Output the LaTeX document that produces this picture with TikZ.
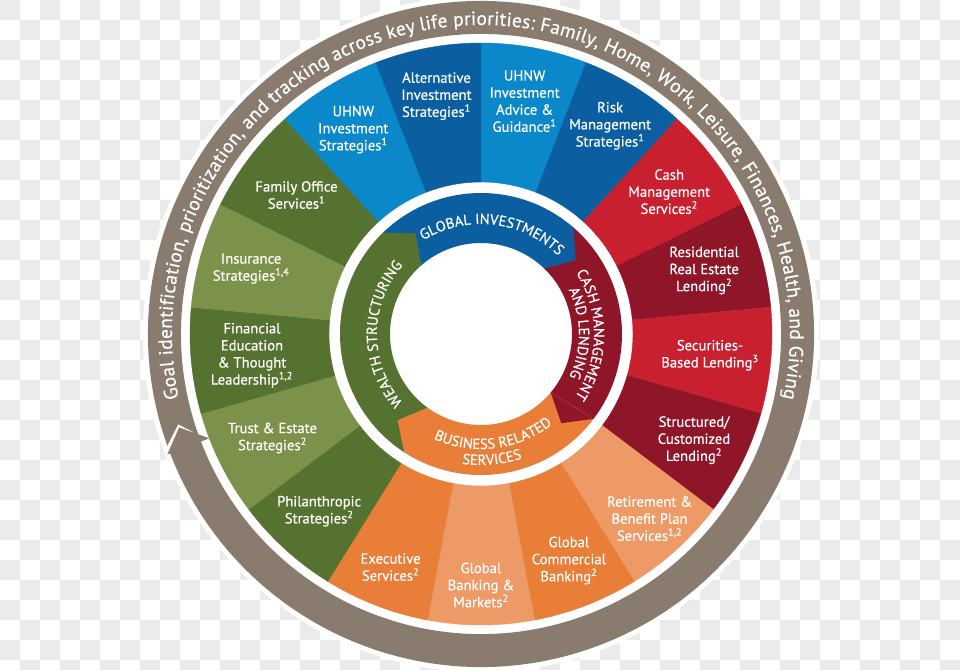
\documentclass[tikz,border=0pt]{standalone}
\usepackage{fontspec}
\setmainfont{PT Sans}
\newfontfamily\wheelfont{PT Sans}[FakeBold=0.5]
\usetikzlibrary{decorations.text}

\definecolor{bluedark}{HTML}{0B5FA0}
\definecolor{bluelight}{HTML}{0B88C9}
\definecolor{redmain}{HTML}{C8202F}
\definecolor{reddark}{HTML}{8F1628}
\definecolor{orangemain}{HTML}{E87E38}
\definecolor{orangelight}{HTML}{EE9A66}
\definecolor{greendark}{HTML}{567230}
\definecolor{greenlight}{HTML}{7C924A}
\definecolor{ringbrown}{HTML}{8A7B6F}
\definecolor{checkgray}{HTML}{EBEBEB}

\tikzset{
  wedgelabel/.style={text=white, align=center, inner sep=0pt, font=\wheelfont\fontsize{11}{12.8}\selectfont},
  arctext/.style={decorate, decoration={text along path, text align=center,
      text={|\wheelfont\fontsize{11}{12}\selectfont\color{white}|#1}}},
}

\begin{document}
\begin{tikzpicture}[x=0.75pt, y=0.75pt, line join=round]
  % Window bounds (pixels, centre of the wheel at the origin)
  \def\xmin{-481} \def\xmax{479}
  \def\ymin{-335} \def\ymax{334}
  \useasboundingbox (\xmin,\ymin) rectangle (\xmax,\ymax);

  % Checkerboard behind the wheel
  \foreach \i in {0,2,...,46} {
    \foreach \j in {0,2,...,32} {
      \fill[checkgray] (\xmin+20*\i,\ymax-20*\j) rectangle ++(20,-20);
      \fill[checkgray] (\xmin+20*\i+20,\ymax-20*\j-20) rectangle ++(20,-20);
    }
  }
  \fill[white] (0,0) circle[radius=338];

  % Outer arrow ring
  \fill[ringbrown] (199.6:333) arc[start angle=199.6, end angle=-159, radius=333]
    -- (-159:336) -- (-162.8:316) -- (-159:291) -- (-159:300)
    arc[start angle=-159, end angle=199.6, radius=300] -- (196.6:316) -- cycle;
  \path[decorate, decoration={text along path, text align={fit to path},
      text={|\wheelfont\fontsize{14.5}{16}\selectfont\color{white}|Goal identification, prioritization, and tracking across key life priorities: Family, Home, Work, Leisure, Finances, Health, and Giving}}]
    (192:309) arc[start angle=192, end angle=-12, radius=309];

  % Outer wedges, clockwise from the top
  \foreach \c [count=\k from 0] in {bluelight, bluedark, redmain, reddark, redmain, reddark,
      orangelight, orangemain, orangelight, orangemain, greendark, greenlight,
      greendark, greenlight, greendark, bluelight, bluedark} {
    \pgfmathsetmacro\a{90-\k*360/17}
    \pgfmathsetmacro\b{90-(\k+1)*360/17}
    \filldraw[\c, line width=0.3pt] (\a:152) arc[start angle=\a, end angle=\b, radius=152]
      -- (\b:291) arc[start angle=\b, end angle=\a, radius=291] -- cycle;
  }

  % Inner ring: sectors, then the pointed ends
  \fill[greendark] (237:141) arc[start angle=237, end angle=134, radius=141]
    -- (131:91) arc[start angle=131, end angle=234, radius=91] -- cycle;
  \fill[bluedark] (134:141) arc[start angle=134, end angle=49, radius=141]
    -- (46:91) arc[start angle=46, end angle=131, radius=91] -- cycle;
  \fill[reddark] (49:141) arc[start angle=49, end angle=-37, radius=141]
    -- (-40:91) arc[start angle=-40, end angle=46, radius=91] -- cycle;
  \fill[orangemain] (-37:141) arc[start angle=-37, end angle=-123, radius=141]
    -- (-126:91) arc[start angle=-126, end angle=-40, radius=91] -- cycle;
  \fill[greendark] (134:141) -- (123:120) -- (131:91) -- cycle;
  \fill[bluedark] (49:141) -- (38:120) -- (46:91) -- cycle;
  \fill[reddark] (-37:141) -- (-48:120) -- (-40:91) -- cycle;
  \fill[orangemain] (-123:141) -- (-134:120) -- (-126:91) -- cycle;

  % Inner ring labels
  \path[arctext={GLOBAL INVESTMENTS}] (130:110) arc[start angle=130, end angle=37, radius=110];
  \path[arctext={CASH MANAGEMENT}] (45:113) arc[start angle=45, end angle=-46, radius=113];
  \path[arctext={AND LENDING}] (45:98) arc[start angle=45, end angle=-44, radius=98];
  \path[arctext={WEALTH STRUCTURING}] (228:104) arc[start angle=228, end angle=132, radius=104];
  \path[arctext={BUSINESS RELATED}] (230:115) arc[start angle=230, end angle=324, radius=115];
  \path[arctext={SERVICES}] (230:131) arc[start angle=230, end angle=320, radius=131];

  % Wedge labels
  \node[wedgelabel] (uhnwadv) at (79.4:237) {UHNW\\Investment\\Advice \&\\Guidance\textsuperscript{1}};
  \node[wedgelabel] (riskmgmt) at (58.2:245) {Risk\\Management\\Strategies\textsuperscript{1}};
  \node[wedgelabel] (cashmgmt) at (37.1:236) {Cash\\Management\\Services\textsuperscript{2}};
  \node[wedgelabel] (resid) at (15.9:232) {Residential\\Real Estate\\Lending\textsuperscript{2}};
  \node[wedgelabel] (secbased) at (-5.3:230) {Securities-\\Based Lending\textsuperscript{3}};
  \node[wedgelabel] (structured) at (-26.5:238) {Structured/\\Customized\\Lending\textsuperscript{2}};
  \node[wedgelabel] (retire) at (-47.6:250) {Retirement \&\\Benefit Plan\\Services\textsuperscript{1,2}};
  \node[wedgelabel] (globcomm) at (-68.8:243) {Global\\Commercial\\Banking\textsuperscript{2}};
  \node[wedgelabel] (globbank) at (-90:251) {Global\\Banking \&\\Markets\textsuperscript{2}};
  \node[wedgelabel] (exec) at (-111.2:250) {Executive\\Services\textsuperscript{2}};
  \node[wedgelabel] (philan) at (-132.4:240) {Philanthropic\\Strategies\textsuperscript{2}};
  \node[wedgelabel] (trust) at (-153.5:233) {Trust \& Estate\\Strategies\textsuperscript{2}};
  \node[wedgelabel] (fined) at (-174.7:230) {Financial\\Education\\\& Thought\\Leadership\textsuperscript{1,2}};
  \node[wedgelabel] (insur) at (164.1:239) {Insurance\\Strategies\textsuperscript{1,4}};
  \node[wedgelabel] (famoff) at (143:231) {Family Office\\Services\textsuperscript{1}};
  \node[wedgelabel] (uhnwinv) at (122:241) {UHNW\\Investment\\Strategies\textsuperscript{1}};
  \node[wedgelabel] (altinv) at (100.6:242) {Alternative\\Investment\\Strategies\textsuperscript{1}};
\end{tikzpicture}
\end{document}
